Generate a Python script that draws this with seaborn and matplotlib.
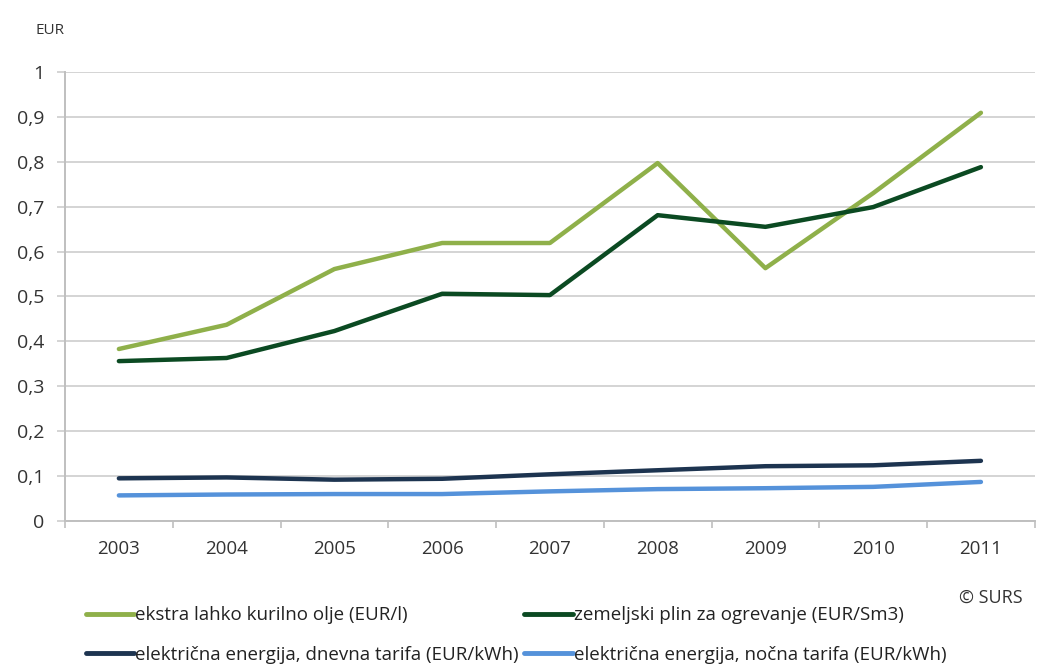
import pandas as pd
import numpy as np
import matplotlib.pyplot as plt
import seaborn as sns

# Data
years = [2003, 2004, 2005, 2006, 2007, 2008, 2009, 2010, 2011]
kurilno_olje = [0.383, 0.437, 0.561, 0.619, 0.619, 0.797, 0.563, 0.730, 0.909]
zemeljski_plin = [0.356, 0.363, 0.423, 0.506, 0.503, 0.681, 0.655, 0.699, 0.788]
elektrika_dnevna = [0.095, 0.097, 0.092, 0.094, 0.104, 0.113, 0.122, 0.124, 0.134]
elektrika_nocna = [0.057, 0.059, 0.060, 0.060, 0.066, 0.071, 0.073, 0.076, 0.087]

series_names = [
    "ekstra lahko kurilno olje (EUR/l)",
    "zemeljski plin za ogrevanje (EUR/Sm3)",
    "električna energija, dnevna tarifa (EUR/kWh)",
    "električna energija, nočna tarifa (EUR/kWh)",
]
colors = ["#8fb04a", "#0b4a22", "#1d3450", "#5592da"]
y_ticks = [0, 0.1, 0.2, 0.3, 0.4, 0.5, 0.6, 0.7, 0.8, 0.9, 1]
y_labels = ["0", "0,1", "0,2", "0,3", "0,4", "0,5", "0,6", "0,7", "0,8", "0,9", "1"]

sns.set_style("white")
plt.rcParams['font.family'] = ['Open Sans', 'DejaVu Sans']

# long-form table for seaborn
df = pd.DataFrame({
    "leto": years * 4,
    "cena": kurilno_olje + zemeljski_plin + elektrika_dnevna + elektrika_nocna,
    "serija": np.repeat(series_names, len(years)),
})

fig = plt.figure(figsize=(10.4, 6.72), dpi=100)
ax = fig.add_axes([0.0625, 0.2247, 0.9325, 0.6683])

for y in y_ticks:
    ax.axhline(y, color="#d4d4d4", lw=1.4, zorder=0)

sns.lineplot(data=df, x="leto", y="cena", hue="serija", hue_order=series_names,
             palette=colors, linewidth=3.2, ax=ax, legend=False)

ax.set_xlim(2002.5, 2011.5)
ax.set_ylim(0, 1)
ax.set_xticks(years)
ax.set_xticklabels([str(y) for y in years], fontsize=13.5, color="#333333")
ax.set_xticks(np.arange(2002.5, 2012, 1), minor=True)
ax.tick_params(axis="x", which="major", bottom=True, length=0, pad=14)
ax.tick_params(axis="x", which="minor", bottom=True, length=5, color="#bfbfbf", width=1.2)
ax.set_yticks(y_ticks)
ax.set_yticklabels(y_labels, fontsize=14, color="#333333")
ax.tick_params(axis="y", left=True, length=6, color="#d4d4d4", width=1.4, pad=9)
ax.set_xlabel("")
ax.set_ylabel("")

for side in ["top", "right"]:
    ax.spines[side].set_visible(False)
for side in ["left", "bottom"]:
    ax.spines[side].set_color("#bfbfbf")
    ax.spines[side].set_linewidth(1.4)

fig.text(0.034, 0.955, "EUR", fontsize=11, color="#333333", va="center")
fig.text(0.953, 0.11, "© SURS", fontsize=13, color="#333333", ha="center", va="center")

# legend filled row by row like the original
order = [0, 2, 1, 3]
handles = [plt.Line2D([], [], color=colors[i], lw=3.5) for i in order]
labels = [series_names[i] for i in order]
fig.legend(handles, labels, loc="lower left", bbox_to_anchor=(0.066, -0.013),
           ncol=2, frameon=False, fontsize=13.5, handlelength=2.6, handletextpad=0.05,
           columnspacing=0.3, labelspacing=1.15, labelcolor="#222222")

fig.savefig("out.png", dpi=100)
